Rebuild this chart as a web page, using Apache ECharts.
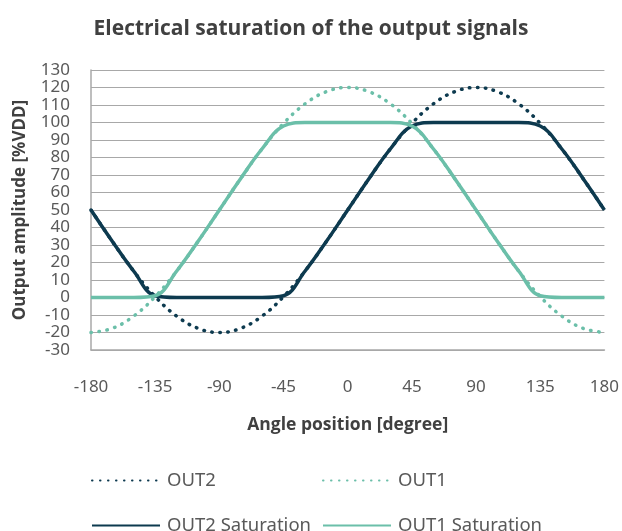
<!DOCTYPE html>
<html lang="en">
<head>
    <meta charset="UTF-8">
    <title>Electrical saturation of the output signals</title>
    <script src="https://cdn.jsdelivr.net/npm/echarts@6/dist/echarts.min.js"></script>
    <style>
        body { margin: 0; background: #fff; }
    </style>
</head>
<body>
    <div id="myChart" style="width: 622px; height: 531px;"></div>
    <script>
        // angle positions (degree)
        const angles = [-180, -165, -150, -135, -120, -105, -90, -75, -60, -45, -30, -15, 0,
            15, 30, 45, 60, 75, 90, 105, 120, 135, 150, 165, 180];

        // output amplitude [%VDD]
        const out2 = [50, 32, 15, 0.5, -10.6, -17.6, -20, -17.6, -10.6, 0.5, 15, 32, 50,
            68, 85, 99.5, 110.6, 117.6, 120, 117.6, 110.6, 99.5, 85, 68, 50];
        const out1 = [-20, -17.6, -10.6, 0.5, 15, 32, 50, 68, 85, 99.5, 110.6, 117.6, 120,
            117.6, 110.6, 99.5, 85, 68, 50, 32, 15, 0.5, -10.6, -17.6, -20];
        const out2Sat = [50, 32, 15, 1, 0, 0, 0, 0, 0, 1, 15, 32, 50,
            68, 85, 98, 100, 100, 100, 100, 100, 98, 85, 68, 50];
        const out1Sat = [0, 0, 0, 1, 15, 32, 50, 68, 85, 98, 100, 100, 100,
            100, 100, 98, 85, 68, 50, 32, 15, 1, 0, 0, 0];

        const navy = '#0d3a4f';
        const teal = '#6bbfa9';
        const gridGray = '#a8a8a8';
        const labelGray = '#595959';

        const myChart = echarts.init(document.getElementById('myChart'));

        function pairs(values) {
            return angles.map((a, i) => [a, values[i]]);
        }

        function dotted(name, color, values) {
            return {
                name: name,
                type: 'line',
                data: pairs(values),
                smooth: 0.4,
                symbol: 'none',
                lineStyle: { color: color, width: 3.5, type: [0.5, 7.5], cap: 'round' },
                itemStyle: { color: color }
            };
        }

        function solid(name, color, values) {
            return {
                name: name,
                type: 'line',
                data: pairs(values),
                smooth: 0.4,
                symbol: 'none',
                lineStyle: { color: color, width: 3.5 },
                itemStyle: { color: color }
            };
        }

        function legendAt(name, left, top) {
            return {
                data: [name],
                left: left,
                top: top,
                itemWidth: 68,
                itemHeight: 14,
                itemGap: 0,
                itemStyle: { opacity: 0 },
                textStyle: { fontFamily: 'Noto Sans', fontSize: 18.5, color: labelGray, padding: [0, 0, 0, 2] }
            };
        }

        const option = {
            animation: false,
            title: {
                text: 'Electrical saturation of the output signals',
                left: 'center',
                top: 14,
                textStyle: { fontFamily: 'Open Sans', fontWeight: 'bold', fontSize: 21, color: '#404040' }
            },
            legend: [
                legendAt('OUT2', 86, 466),
                legendAt('OUT1', 317, 466),
                legendAt('OUT2 Saturation', 86, 511),
                legendAt('OUT1 Saturation', 317, 511)
            ],
            grid: { left: 91, right: 17, top: 70, bottom: 181 },
            xAxis: {
                type: 'value',
                min: -180,
                max: 180,
                interval: 45,
                name: 'Angle position [degree]',
                nameLocation: 'middle',
                nameGap: 66,
                nameTextStyle: { fontFamily: 'Open Sans', fontWeight: 'bold', fontSize: 17.5, color: '#404040' },
                axisLine: { show: true, onZero: false, lineStyle: { color: gridGray, width: 1.5 } },
                axisTick: { show: false },
                splitLine: { show: false },
                axisLabel: { fontFamily: 'Noto Sans', fontSize: 17, color: labelGray, margin: 29 }
            },
            yAxis: {
                type: 'value',
                min: -30,
                max: 130,
                interval: 10,
                name: 'Output amplitude [%VDD]',
                nameLocation: 'middle',
                nameGap: 62,
                nameTextStyle: { fontFamily: 'Open Sans', fontWeight: 'bold', fontSize: 17, color: '#404040' },
                axisLine: { show: true, onZero: false, lineStyle: { color: gridGray, width: 1.5 } },
                axisTick: { show: false },
                splitLine: { show: true, lineStyle: { color: gridGray, width: 1.2 } },
                axisLabel: { fontFamily: 'Noto Sans', fontSize: 17, color: labelGray, margin: 21 }
            },
            series: [
                dotted('OUT2', navy, out2),
                dotted('OUT1', teal, out1),
                solid('OUT2 Saturation', navy, out2Sat),
                solid('OUT1 Saturation', teal, out1Sat)
            ]
        };
        myChart.setOption(option);
    </script>
</body>
</html>
